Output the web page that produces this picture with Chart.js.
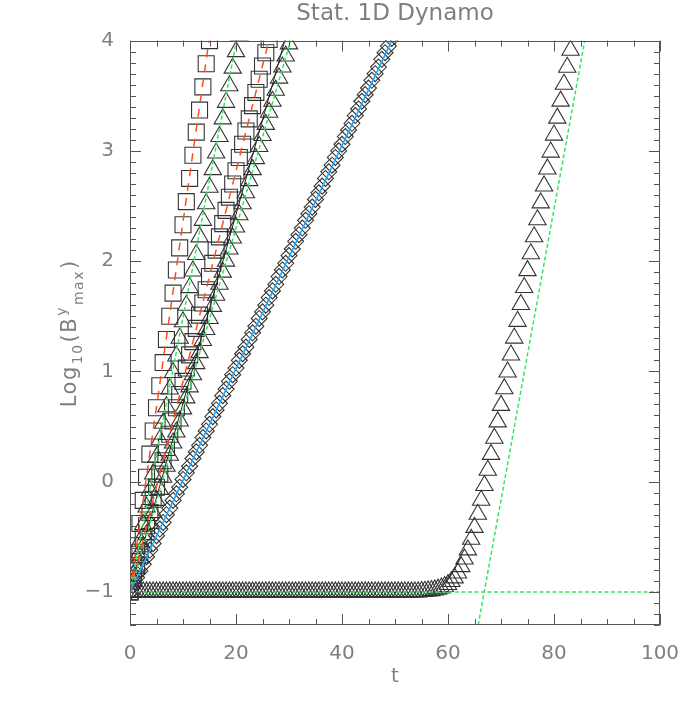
<!DOCTYPE html>
<html>
<head>
<meta charset="utf-8">
<script src="https://cdn.jsdelivr.net/npm/chart.js@4.4.0/dist/chart.umd.min.js"></script>
<style>
  html, body { margin: 0; padding: 0; background: #fff; }
</style>
</head>
<body>
<canvas id="chart" width="700" height="709"></canvas>
<script>
// time grid of the runs (every 0.625)
const t = [
  0, 0.625, 1.25, 1.875, 2.5, 3.125, 3.75, 4.375,
  5, 5.625, 6.25, 6.875, 7.5, 8.125, 8.75, 9.375,
  10, 10.625, 11.25, 11.875, 12.5, 13.125, 13.75, 14.375,
  15, 15.625, 16.25, 16.875, 17.5, 18.125, 18.75, 19.375,
  20, 20.625, 21.25, 21.875, 22.5, 23.125, 23.75, 24.375,
  25, 25.625, 26.25, 26.875, 27.5, 28.125, 28.75, 29.375,
  30, 30.625, 31.25, 31.875, 32.5, 33.125, 33.75, 34.375,
  35, 35.625, 36.25, 36.875, 37.5, 38.125, 38.75, 39.375,
  40, 40.625, 41.25, 41.875, 42.5, 43.125, 43.75, 44.375,
  45, 45.625, 46.25, 46.875, 47.5, 48.125, 48.75, 49.375,
  50, 50.625, 51.25, 51.875, 52.5, 53.125, 53.75, 54.375,
  55, 55.625, 56.25, 56.875, 57.5, 58.125, 58.75, 59.375,
  60, 60.625, 61.25, 61.875, 62.5, 63.125, 63.75, 64.375,
  65, 65.625, 66.25, 66.875, 67.5, 68.125, 68.75, 69.375,
  70, 70.625, 71.25, 71.875, 72.5, 73.125, 73.75, 74.375,
  75, 75.625, 76.25, 76.875, 77.5, 78.125, 78.75, 79.375,
  80, 80.625, 81.25, 81.875, 82.5, 83.125, 83.75, 84.375
];

// log10(B^y_max) of each run, one value per time above
const sq1 = [
  -1.00, -0.79, -0.58, -0.38, -0.17, 0.04, 0.25, 0.46, 0.67, 0.87,
  1.08, 1.29, 1.50, 1.71, 1.92, 2.12, 2.33, 2.54, 2.75, 2.96,
  3.17, 3.37, 3.58, 3.79, 4.00
];
const tri2 = [
  -1.00, -0.85, -0.69, -0.54, -0.39, -0.23, -0.08, 0.07, 0.22, 0.38,
  0.53, 0.68, 0.84, 0.99, 1.14, 1.30, 1.45, 1.60, 1.76, 1.91,
  2.06, 2.22, 2.37, 2.52, 2.67, 2.83, 2.98, 3.13, 3.29, 3.44,
  3.59, 3.75, 3.90, 4.05
];
const sq3 = [
  -1.00, -0.88, -0.76, -0.64, -0.52, -0.40, -0.28, -0.16, -0.05, 0.07,
  0.19, 0.31, 0.43, 0.55, 0.67, 0.79, 0.91, 1.03, 1.15, 1.27,
  1.39, 1.51, 1.62, 1.74, 1.86, 1.98, 2.10, 2.22, 2.34, 2.46,
  2.58, 2.70, 2.82, 2.94, 3.06, 3.18, 3.29, 3.41, 3.53, 3.65,
  3.77, 3.89, 4.01
];
const tri4 = [
  -1.00, -0.90, -0.79, -0.69, -0.59, -0.48, -0.38, -0.28, -0.17, -0.07,
  0.04, 0.14, 0.24, 0.35, 0.45, 0.55, 0.66, 0.76, 0.86, 0.97,
  1.07, 1.17, 1.28, 1.38, 1.48, 1.59, 1.69, 1.79, 1.90, 2.00,
  2.11, 2.21, 2.31, 2.42, 2.52, 2.62, 2.73, 2.83, 2.93, 3.04,
  3.14, 3.24, 3.35, 3.45, 3.55, 3.66, 3.76, 3.86, 3.97
];
const dia5 = [
  -1.00, -0.94, -0.87, -0.81, -0.75, -0.68, -0.62, -0.56, -0.49, -0.43,
  -0.37, -0.30, -0.24, -0.17, -0.11, -0.05, 0.02, 0.08, 0.14, 0.21,
  0.27, 0.33, 0.40, 0.46, 0.52, 0.59, 0.65, 0.71, 0.78, 0.84,
  0.91, 0.97, 1.03, 1.10, 1.16, 1.22, 1.29, 1.35, 1.41, 1.48,
  1.54, 1.60, 1.67, 1.73, 1.79, 1.86, 1.92, 1.98, 2.05, 2.11,
  2.18, 2.24, 2.30, 2.37, 2.43, 2.49, 2.56, 2.62, 2.68, 2.75,
  2.81, 2.87, 2.94, 3.00, 3.06, 3.13, 3.19, 3.25, 3.32, 3.38,
  3.45, 3.51, 3.57, 3.64, 3.70, 3.76, 3.83, 3.89, 3.95, 4.02
];
const tri6 = [
  -1, -1, -1, -1, -1, -1, -1, -1, -1, -1, -1, -1, -1, -1, -1, -1,
  -1, -1, -1, -1, -1, -1, -1, -1, -1, -1, -1, -1, -1, -1, -1, -1,
  -1, -1, -1, -1, -1, -1, -1, -1, -1, -1, -1, -1, -1, -1, -1, -1,
  -1, -1, -1, -1, -1, -1, -1, -1, -1, -1, -1, -1, -1, -1, -1, -1,
  -1, -1, -1, -1, -1, -1, -1, -1, -1, -1, -1, -1, -1, -1, -1, -1,
  -1, -1, -1, -1, -1, -1, -1, -1,
  -0.996, -0.994, -0.991, -0.988, -0.983, -0.975, -0.965, -0.951,
  -0.933, -0.906, -0.873, -0.828, -0.771, -0.701, -0.619, -0.523,
  -0.415, -0.296, -0.169, -0.035, 0.103, 0.247, 0.394, 0.542,
  0.692, 0.843, 0.995, 1.148, 1.302, 1.454, 1.607, 1.761,
  1.914, 2.067, 2.221, 2.375, 2.528, 2.682, 2.836, 2.989,
  3.143, 3.297, 3.451, 3.604, 3.758, 3.912, 4.066
];

// fitted growth lines [t, log10 B]
const fitRed1 = [[0, -1], [14.9, 4]];
const fitRed3 = [[0, -1], [26.2, 4]];
const fitGreen2 = [[0, -1], [20.1, 4]];
const fitGreen4 = [[0, -1], [30.3, 4]];
const lineBlack4 = [[0, -1], [29.2, 4]];
const fitBlue5 = [[0, -1], [49.4, 4]];
const fitGreenFlat = [[0, -1], [100, -1]];
const fitGreenLate = [[65.7, -1.3], [85.8, 4]];

const xTicks = [0, 20, 40, 60, 80, 100];
const yTicks = [-1, 0, 1, 2, 3, 4];

const FONT = "'DejaVu Sans', sans-serif";
const TEXT = '#7f7f7f';
const MARK = '#333';
const RED = '#ff4d1a';
const GREEN = '#2ee85c';
const BLUE = '#1ea5ff';

const pts = ys => ys.map((v, i) => ({ x: t[i], y: v }));
const seg = p => p.map(([a, b]) => ({ x: a, y: b }));

function fitLine(p, color, dash, width) {
  return {
    data: seg(p), showLine: true, pointRadius: 0, borderColor: color,
    borderDash: dash, borderWidth: width, fill: false, tension: 0
  };
}
function markers(ys, style, r) {
  return {
    data: pts(ys), showLine: false, pointStyle: style, pointRadius: r,
    pointBorderColor: MARK, pointBackgroundColor: 'rgba(0,0,0,0)', pointBorderWidth: 1.1
  };
}

// IDL style frame with inward ticks on all four sides
const idlFrame = {
  id: 'idlFrame',
  afterDraw(chart) {
    const { ctx, chartArea: a, scales: { x, y } } = chart;
    ctx.save();
    ctx.strokeStyle = '#555';
    ctx.lineWidth = 1;
    ctx.beginPath();
    ctx.rect(Math.round(a.left) + 0.5, Math.round(a.top) + 0.5,
      Math.round(a.right - a.left) - 1, Math.round(a.bottom - a.top) - 1);
    for (let v = 0; v <= 100; v += 5) {
      const px = Math.round(x.getPixelForValue(v)) + 0.5;
      const len = v % 20 === 0 ? 11 : 6;
      ctx.moveTo(px, a.bottom); ctx.lineTo(px, a.bottom - len);
      ctx.moveTo(px, a.top); ctx.lineTo(px, a.top + len);
    }
    for (let i = -13; i <= 40; i++) {
      const py = Math.round(y.getPixelForValue(i / 10)) + 0.5;
      const len = i % 10 === 0 ? 11 : 6;
      ctx.moveTo(a.left, py); ctx.lineTo(a.left + len, py);
      ctx.moveTo(a.right, py); ctx.lineTo(a.right - len, py);
    }
    ctx.stroke();
    ctx.restore();
  }
};

// y title with sub- and superscripts
const yTitle = {
  id: 'yTitle',
  afterDraw(chart) {
    const { ctx, chartArea: a } = chart;
    const parts = [
      { s: 'Log', size: 21, dy: 0 },
      { s: '10', size: 14, dy: 6 },
      { s: '(B', size: 21, dy: 0 },
      { s: 'y', size: 14, dy: -10 },
      { s: 'max', size: 14, dy: 7 },
      { s: ')', size: 21, dy: 0 }
    ];
    ctx.save();
    ctx.fillStyle = TEXT;
    ctx.textBaseline = 'alphabetic';
    ctx.letterSpacing = '1.5px';
    let total = 0;
    parts.forEach(p => { ctx.font = p.size + 'px ' + FONT; p.w = ctx.measureText(p.s).width + 1; total += p.w; });
    ctx.translate(76, (a.top + a.bottom) / 2);
    ctx.rotate(-Math.PI / 2);
    let cx = -total / 2;
    parts.forEach(p => { ctx.font = p.size + 'px ' + FONT; ctx.fillText(p.s, cx, p.dy); cx += p.w; });
    ctx.restore();
  }
};

new Chart(document.getElementById('chart'), {
  type: 'scatter',
  data: {
    datasets: [
      fitLine(fitRed1, RED, [8, 7], 1.5),
      fitLine(fitRed3, RED, [8, 7], 1.5),
      fitLine(fitGreen2, GREEN, [4, 2.5], 1.5),
      fitLine(fitGreen4, GREEN, [4, 2.5], 1.5),
      fitLine(lineBlack4, '#222', [], 1),
      fitLine(fitBlue5, BLUE, [], 1.6),
      fitLine(fitGreenFlat, GREEN, [4, 2.5], 1.5),
      fitLine(fitGreenLate, GREEN, [4, 2.5], 1.5),
      markers(sq1, 'rect', 11.3),
      markers(tri2, 'triangle', 10),
      markers(sq3, 'rect', 11.3),
      markers(tri4, 'triangle', 10),
      markers(dia5, 'rectRot', 8),
      markers(tri6, 'triangle', 10)
    ]
  },
  options: {
    responsive: false,
    animation: false,
    layout: { padding: { left: 0, right: 40, top: 0, bottom: 0 } },
    plugins: {
      legend: { display: false },
      tooltip: { enabled: false },
      title: {
        display: true,
        fullSize: false,
        text: 'Stat. 1D Dynamo',
        color: TEXT,
        font: { family: FONT, size: 23, weight: 'normal' },
        padding: { top: 0, bottom: 13 }
      }
    },
    scales: {
      x: {
        type: 'linear', min: 0, max: 100,
        afterBuildTicks: s => { s.ticks = xTicks.map(v => ({ value: v })); },
        afterFit: s => { s.height = 84; },
        grid: { display: false },
        border: { display: false },
        ticks: { color: TEXT, font: { family: FONT, size: 20 }, padding: 9, maxRotation: 0, autoSkip: false },
        title: { display: true, text: 't', color: TEXT, font: { family: FONT, size: 20 }, padding: { top: 0, bottom: 20 } }
      },
      y: {
        type: 'linear', min: -1.3, max: 4,
        afterBuildTicks: s => { s.ticks = yTicks.map(v => ({ value: v })); },
        afterFit: s => { s.width = 130; },
        grid: { display: false },
        border: { display: false },
        ticks: {
          color: TEXT, font: { family: FONT, size: 20 }, padding: 8,
          callback: v => (v < 0 ? '\u2212' + Math.abs(v) : String(v))
        }
      }
    }
  },
  plugins: [idlFrame, yTitle]
});
</script>
</body>
</html>
